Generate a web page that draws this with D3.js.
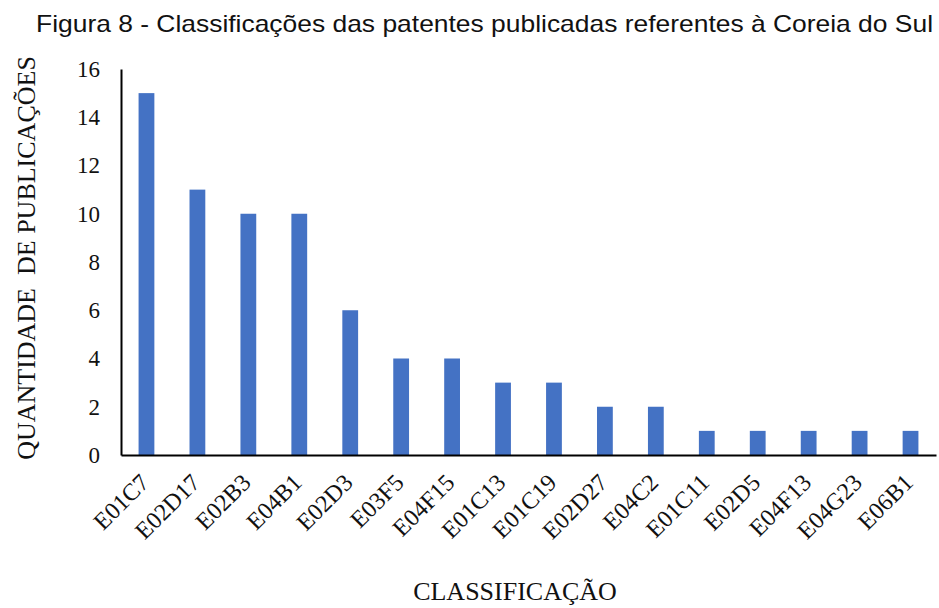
<!DOCTYPE html>
<html>
<head>
<meta charset="utf-8">
<script src="https://cdn.jsdelivr.net/npm/d3@7"></script>
<style>
  body { margin: 0; background: #fff; }
  svg { display: block; }
</style>
</head>
<body>
<div id="chart"></div>
<script>
// Chart data
const categories = ['E01C7', 'E02D17', 'E02B3', 'E04B1', 'E02D3', 'E03F5', 'E04F15', 'E01C13',
  'E01C19', 'E02D27', 'E04C2', 'E01C11', 'E02D5', 'E04F13', 'E04G23', 'E06B1'];
const counts = [15, 11, 10, 10, 6, 4, 4, 3, 3, 2, 2, 1, 1, 1, 1, 1];
const yTicks = [0, 2, 4, 6, 8, 10, 12, 14, 16];

const width = 939;
const height = 608;
const margin = { top: 69, right: 3, bottom: 153, left: 121 };

const serif = 'Liberation Serif, Times New Roman, serif';

const svg = d3.select('#chart')
  .append('svg')
  .attr('width', width)
  .attr('height', height);

const x = d3.scaleBand()
  .domain(categories)
  .range([margin.left, width - margin.right])
  .paddingInner(0.69)
  .paddingOuter(0.345);

const y = d3.scaleLinear()
  .domain([0, 16])
  .range([height - margin.bottom, margin.top]);

// Title
svg.append('text')
  .attr('x', 36)
  .attr('y', 32)
  .attr('font-family', 'Liberation Sans, Arial, sans-serif')
  .attr('font-size', '24px')
  .attr('fill', '#111')
  .attr('textLength', 897)
  .attr('lengthAdjust', 'spacingAndGlyphs')
  .text('Figura 8 - Classificações das patentes publicadas referentes à Coreia do Sul');

// Bars
svg.append('g')
  .selectAll('rect')
  .data(counts)
  .enter()
  .append('rect')
  .attr('x', (d, i) => x(categories[i]))
  .attr('y', (d) => y(d))
  .attr('width', x.bandwidth())
  .attr('height', (d) => y(0) - y(d))
  .attr('fill', '#4472c4');

// Y axis
const yAxis = svg.append('g')
  .attr('transform', `translate(${margin.left},0)`)
  .call(d3.axisLeft(y).tickValues(yTicks).tickSize(0).tickPadding(21));
yAxis.select('.domain').attr('stroke', '#000').attr('stroke-width', 2);
yAxis.selectAll('text')
  .attr('font-family', serif)
  .attr('font-size', '23px')
  .attr('fill', '#111');

// X axis
const xAxis = svg.append('g')
  .attr('transform', `translate(0,${y(0)})`)
  .call(d3.axisBottom(x).tickSize(0).tickPadding(0));
xAxis.select('.domain').attr('stroke', '#000').attr('stroke-width', 2);
xAxis.selectAll('text')
  .attr('font-family', serif)
  .attr('font-size', '24px')
  .attr('fill', '#111')
  .attr('text-anchor', 'end')
  .attr('dy', null)
  .attr('y', null)
  .attr('transform', 'translate(4,29) rotate(-45)');

// Axis titles
svg.append('text')
  .attr('transform', 'translate(35,258) rotate(-90)')
  .attr('text-anchor', 'middle')
  .attr('font-family', serif)
  .attr('font-size', '26px')
  .attr('fill', '#111')
  .style('white-space', 'pre')
  .text('QUANTIDADE  DE PUBLICAÇÕES');

svg.append('text')
  .attr('x', 515)
  .attr('y', 600)
  .attr('text-anchor', 'middle')
  .attr('font-family', serif)
  .attr('font-size', '26px')
  .attr('fill', '#111')
  .text('CLASSIFICAÇÃO');
</script>
</body>
</html>
